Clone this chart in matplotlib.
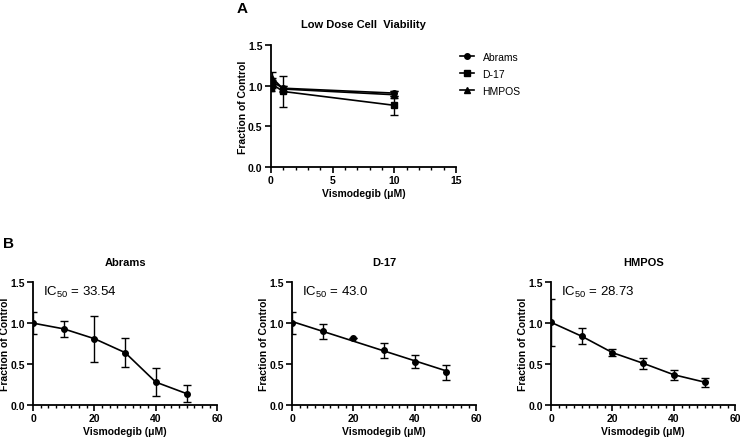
import matplotlib
matplotlib.use('Agg')
import matplotlib.pyplot as plt
from matplotlib.ticker import MultipleLocator
from matplotlib.lines import Line2D

plt.rcParams['font.family'] = ['Liberation Sans', 'DejaVu Sans']
plt.rcParams['mathtext.fontset'] = 'custom'
plt.rcParams['mathtext.rm'] = 'Liberation Sans'
plt.rcParams['mathtext.it'] = 'Liberation Sans'

# panel A - low dose
low_dose = [0, 0.1, 1, 10]
low_names = ['Abrams', 'D-17', 'HMPOS']
low_markers = ['o', 's', '^']
low_mean = [[1.00, 1.05, 0.97, 0.91],
            [0.97, 1.02, 0.93, 0.76],
            [1.03, 1.10, 0.96, 0.89]]
low_err = [[0.03, 0.04, 0.03, 0.03],
           [0.04, 0.05, 0.19, 0.12],
           [0.05, 0.07, 0.04, 0.04]]

# panel B - dose response
dose = [0, 10, 20, 30, 40, 50]
cells = ['Abrams', 'D-17', 'HMPOS']
ic50 = ['33.54', '43.0', '28.73']
abrams = [1.00, 0.93, 0.81, 0.64, 0.28, 0.14]
abrams_err = [0.13, 0.10, 0.28, 0.18, 0.17, 0.10]
d17 = [1.00, 0.90, 0.82, 0.67, 0.53, 0.40]
d17_err = [0.13, 0.095, 0.0, 0.09, 0.08, 0.095]
d17_fit = [1.02, 0.42]  # linear fit at x=0 and x=50
hmpos = [1.01, 0.84, 0.64, 0.51, 0.37, 0.28]
hmpos_err = [0.29, 0.10, 0.04, 0.07, 0.06, 0.055]

fig = plt.figure(figsize=(7.4, 4.39), dpi=100)


def style(ax, width_px):
    for s in ['top', 'right']:
        ax.spines[s].set_visible(False)
    for s in ['left', 'bottom']:
        ax.spines[s].set_linewidth(1.3)
    ax.tick_params(width=1.2, length=4, labelsize=7.5, pad=2)
    ax.tick_params(which='minor', width=1.0, length=2.5)
    ax.set_ylim(0, 1.5)
    ax.set_yticks([0, 0.5, 1.0, 1.5])
    ax.set_yticklabels(['0.0', '0.5', '1.0', '1.5'], fontweight='bold')
    ax.set_ylabel('Fraction of Control', fontsize=7.5, fontweight='bold',
                  va='center')
    ax.yaxis.set_label_coords(-28 / width_px, 0.5)
    ax.set_xlabel('Vismodegib (\u03bcM)', fontsize=7.5, fontweight='bold',
                  labelpad=2)


# top panel
ax = fig.add_axes([0.366, 0.617, 0.25, 0.278])
for i in range(3):
    ax.errorbar(low_dose, low_mean[i], yerr=low_err[i], color='black',
                marker=low_markers[i], markersize=4, linewidth=1.2,
                capsize=3, elinewidth=1.0, capthick=1.0)
ax.set_xlim(0, 15)
ax.set_xticks([0, 5, 10, 15])
ax.xaxis.set_minor_locator(MultipleLocator(1))
style(ax, 185)
ax.set_xticklabels(['0', '5', '10', '15'], fontweight='bold')
ax.set_title('Low Dose Cell  Viability', fontsize=8, fontweight='bold', pad=13)
handles = [Line2D([], [], color='black', marker=m, markersize=4, linewidth=1.2)
           for m in low_markers]
ax.legend(handles, low_names, loc='upper left', bbox_to_anchor=(0.97, 1.02),
          frameon=False, fontsize=7.5, handlelength=1.4, labelspacing=0.65)
fig.text(0.32, 0.995, 'A', fontsize=11, fontweight='bold', va='top')

# bottom panels
lefts = [0.0446, 0.3946, 0.7446]
values = [abrams, d17, hmpos]
errs = [abrams_err, d17_err, hmpos_err]
for i in range(3):
    ax = fig.add_axes([lefts[i], 0.075, 0.249, 0.28])
    if cells[i] == 'D-17':
        ax.errorbar(dose, values[i], yerr=errs[i], color='black', fmt='o',
                    markersize=4, capsize=3, elinewidth=1.0, capthick=1.0)
        ax.plot([0, 50], d17_fit, color='black', linewidth=1.2)
    else:
        ax.errorbar(dose, values[i], yerr=errs[i], color='black', marker='o',
                    markersize=4, linewidth=1.2, capsize=3, elinewidth=1.0,
                    capthick=1.0)
    ax.set_xlim(0, 60)
    ax.set_xticks([0, 20, 40, 60])
    ax.xaxis.set_minor_locator(MultipleLocator(2.5))
    style(ax, 184)
    ax.set_xticklabels(['0', '20', '40', '60'], fontweight='bold')
    ax.set_title(cells[i], fontsize=8, fontweight='bold', pad=12)
    ax.text(3.3, 1.39, r'$\mathregular{IC_{50}}$ = ' + ic50[i], fontsize=9.5,
            va='center', ha='left')

fig.text(0.004, 0.46, 'B', fontsize=11, fontweight='bold', va='top')

fig.savefig('out.png', dpi=100)
